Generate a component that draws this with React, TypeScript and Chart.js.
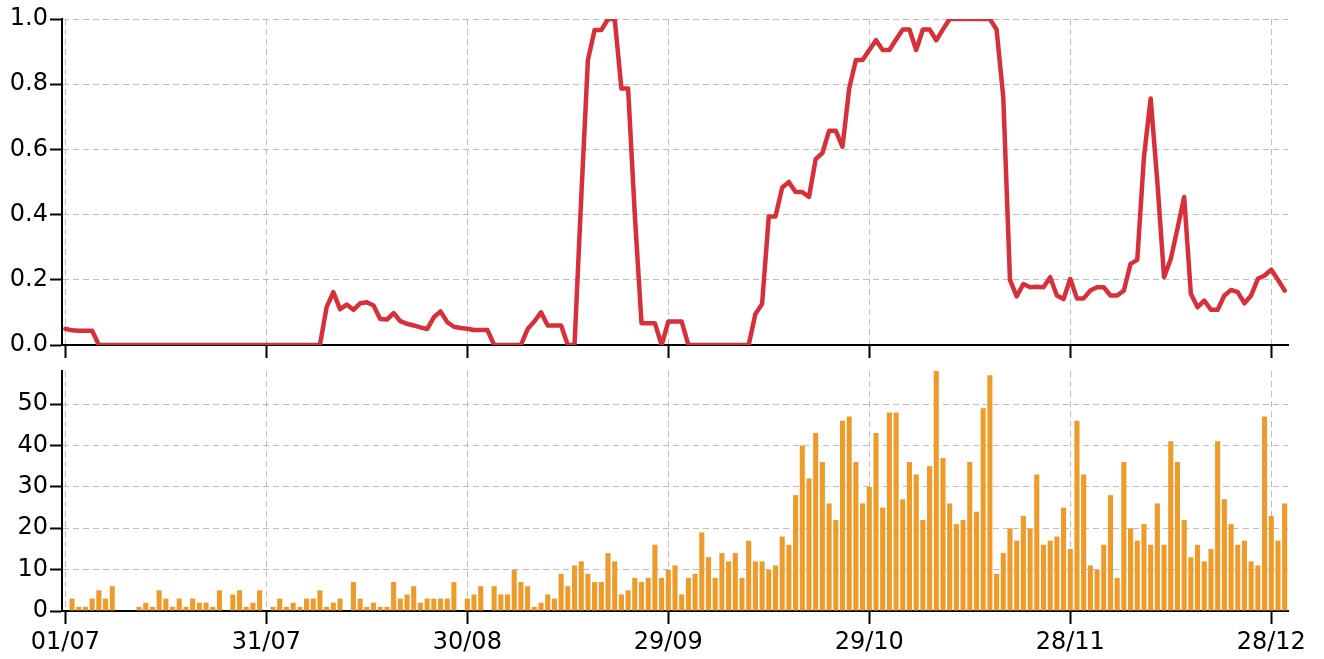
import React, { useEffect, useRef } from "react";
import { Chart, registerables } from "chart.js";

Chart.register(...registerables);

// Day index 0 = 01/07 ... 182 = 30/12
const tickDays = [0, 30, 60, 90, 120, 150, 180];
const tickLabels = ["01/07", "31/07", "30/08", "29/09", "29/10", "28/11", "28/12"];

const ratioValues = [
  0.05, 0.045, 0.044, 0.044, 0.044, 0, 0, 0, 0, 0,
  0, 0, 0, 0, 0, 0, 0, 0, 0, 0,
  0, 0, 0, 0, 0, 0, 0, 0, 0, 0,
  0, 0, 0, 0, 0, 0, 0, 0, 0, 0.116,
  0.162, 0.11, 0.124, 0.108, 0.128, 0.131, 0.121, 0.08, 0.078, 0.098,
  0.073, 0.065, 0.06, 0.054, 0.049, 0.085, 0.103, 0.07, 0.056, 0.052,
  0.05, 0.046, 0.046, 0.046, 0, 0, 0, 0, 0, 0.049,
  0.072, 0.1, 0.06, 0.06, 0.06, 0, 0, 0.45, 0.874, 0.966,
  0.966, 1.0, 1.0, 0.787, 0.787, 0.4, 0.067, 0.067, 0.067, 0,
  0.072, 0.072, 0.072, 0, 0, 0, 0, 0, 0, 0,
  0, 0, 0, 0.095, 0.126, 0.394, 0.394, 0.483, 0.5, 0.469,
  0.469, 0.454, 0.57, 0.589, 0.657, 0.657, 0.608, 0.787, 0.874, 0.874,
  0.905, 0.935, 0.905, 0.905, 0.937, 0.968, 0.968, 0.905, 0.968, 0.968,
  0.935, 0.968, 1.0, 1.0, 1.0, 1.0, 1.0, 1.0, 1.0, 0.968,
  0.761, 0.2, 0.149, 0.187, 0.177, 0.179, 0.177, 0.208, 0.152, 0.141,
  0.203, 0.143, 0.143, 0.167, 0.177, 0.177, 0.152, 0.152, 0.167, 0.249,
  0.261, 0.577, 0.756, 0.5, 0.208, 0.264, 0.357, 0.454, 0.157, 0.116,
  0.136, 0.108, 0.108, 0.152, 0.169, 0.162, 0.128, 0.152, 0.203, 0.213,
  0.231, 0.2, 0.167,
];

const countValues = [
  0, 3, 1, 1, 3, 5, 3, 6, 0, 0,
  0, 1, 2, 1, 5, 3, 1, 3, 1, 3,
  2, 2, 1, 5, 0, 4, 5, 1, 2, 5,
  0, 1, 3, 1, 2, 1, 3, 3, 5, 1,
  2, 3, 0, 7, 3, 1, 2, 1, 1, 7,
  3, 4, 6, 2, 3, 3, 3, 3, 7, 0,
  3, 4, 6, 0, 6, 4, 4, 10, 7, 6,
  1, 2, 4, 3, 9, 6, 11, 12, 9, 7,
  7, 14, 12, 4, 5, 8, 7, 8, 16, 8,
  10, 11, 4, 8, 9, 19, 13, 8, 14, 12,
  14, 8, 17, 12, 12, 10, 11, 18, 16, 28,
  40, 32, 43, 36, 26, 22, 46, 47, 36, 26,
  30, 43, 25, 48, 48, 27, 36, 33, 22, 35,
  58, 37, 26, 21, 22, 36, 24, 49, 57, 9,
  14, 20, 17, 23, 20, 33, 16, 17, 18, 25,
  15, 46, 33, 11, 10, 16, 28, 8, 36, 20,
  17, 21, 16, 26, 16, 41, 36, 22, 13, 16,
  12, 15, 41, 27, 21, 16, 17, 12, 11, 47,
  23, 17, 26,
];

const ratioTicks = [0, 0.2, 0.4, 0.6, 0.8, 1.0];
const countTicks = [0, 10, 20, 30, 40, 50];

const FONT = { family: "'DejaVu Sans', sans-serif", size: 24 };
const GRID_COLOR = "#bdbdbd";
const LINE_COLOR = "#d7303a";
const BAR_COLOR = "#ed9b2b";

function xScale(showLabels: boolean, height: number) {
  return {
    type: "linear" as const,
    min: -0.5,
    max: 182.5,
    offset: false,
    afterBuildTicks: (scale: any) => {
      scale.ticks = tickDays.map((v) => ({ value: v }));
    },
    afterFit: (scale: any) => {
      scale.height = height;
      scale.paddingLeft = 0;
      scale.paddingRight = 0;
    },
    ticks: {
      display: showLabels,
      autoSkip: false,
      maxRotation: 0,
      minRotation: 0,
      padding: 4,
      color: "#000",
      font: FONT,
      callback: (v: any) => {
        const i = tickDays.indexOf(Number(v));
        return i >= 0 ? tickLabels[i] : "";
      },
    },
    grid: {
      display: true,
      offset: false,
      color: GRID_COLOR,
      lineWidth: 1,
      drawTicks: true,
      tickLength: 13,
      tickColor: "#000",
      tickWidth: 2,
    },
    border: { display: true, color: "#000", width: 2, dash: [6, 4] },
  };
}

function yScale(min: number, max: number, ticks: number[], fmt: (v: number) => string) {
  return {
    min,
    max,
    afterBuildTicks: (scale: any) => {
      scale.ticks = ticks.map((v) => ({ value: v }));
    },
    afterFit: (scale: any) => {
      scale.width = 62;
      scale.paddingTop = 0;
      scale.paddingBottom = 0;
    },
    ticks: {
      padding: 2,
      color: "#000",
      font: FONT,
      callback: (v: any) => fmt(Number(v)),
    },
    grid: {
      display: true,
      color: GRID_COLOR,
      lineWidth: 1,
      drawTicks: true,
      tickLength: 12,
      tickColor: "#000",
      tickWidth: 2,
    },
    border: { display: true, color: "#000", width: 2, dash: [6, 4] },
  };
}

export default function App() {
  const topRef = useRef<HTMLCanvasElement | null>(null);
  const botRef = useRef<HTMLCanvasElement | null>(null);

  useEffect(() => {
    const top = new Chart(topRef.current as HTMLCanvasElement, {
      type: "line",
      data: {
        datasets: [
          {
            data: ratioValues.map((v, i) => ({ x: i, y: v })),
            borderColor: LINE_COLOR,
            borderWidth: 4.5,
            pointRadius: 0,
            tension: 0,
            borderJoinStyle: "round",
            borderCapStyle: "round",
            fill: false,
          },
        ],
      },
      options: {
        responsive: false,
        animation: false,
        devicePixelRatio: 1,
        layout: { padding: { left: 0, right: 36, top: 19, bottom: 0 } },
        plugins: { legend: { display: false }, tooltip: { enabled: false } },
        scales: {
          x: xScale(false, 15),
          y: yScale(0, 1, ratioTicks, (v) => v.toFixed(1)),
        },
      } as any,
    });

    const bot = new Chart(botRef.current as HTMLCanvasElement, {
      type: "bar",
      data: {
        datasets: [
          {
            data: countValues.map((v, i) => ({ x: i, y: v })),
            backgroundColor: BAR_COLOR,
            borderWidth: 0,
            barPercentage: 0.76,
            categoryPercentage: 1,
          },
        ],
      },
      options: {
        responsive: false,
        animation: false,
        devicePixelRatio: 1,
        layout: { padding: { left: 0, right: 36, top: 11, bottom: 0 } },
        plugins: { legend: { display: false }, tooltip: { enabled: false } },
        scales: {
          x: xScale(true, 48),
          y: yScale(0, 58, countTicks, (v) => String(v)),
        },
      } as any,
    });

    return () => {
      top.destroy();
      bot.destroy();
    };
  }, []);

  return (
    <div style={{ position: "fixed", left: 0, top: 0, width: 1324, height: 659, background: "#fff" }}>
      <canvas
        ref={topRef}
        width={1324}
        height={360}
        style={{ position: "absolute", left: 0, top: 0, width: 1324, height: 360 }}
      />
      <canvas
        ref={botRef}
        width={1324}
        height={299}
        style={{ position: "absolute", left: 0, top: 360, width: 1324, height: 299 }}
      />
    </div>
  );
}
